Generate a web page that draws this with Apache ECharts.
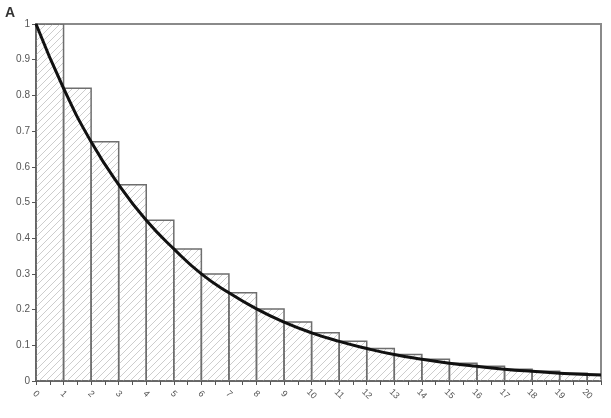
<!DOCTYPE html>
<html>
<head>
<meta charset="utf-8">
<script src="https://cdn.jsdelivr.net/npm/echarts@6/dist/echarts.min.js"></script>
<style>
html,body{margin:0;padding:0;background:#fff;}
#c{width:611px;height:418px;}
</style>
</head>
<body>
<div id="c"></div>
<script>
// Data
const binStarts = [0,1,2,3,4,5,6,7,8,9,10,11,12,13,14,15,16,17,18,19,20];
const barValues = [1.0,0.82,0.67,0.55,0.45,0.37,0.30,0.247,0.202,0.165,0.135,0.111,0.091,0.074,0.061,0.050,0.041,0.033,0.027,0.022,0.018];
const curveX = [0,1,2,3,4,5,6,7,8,9,10,11,12,13,14,15,16,17,18,19,20,20.5];
const curveY = [1.0,0.82,0.67,0.55,0.45,0.37,0.30,0.247,0.202,0.165,0.135,0.111,0.091,0.074,0.061,0.050,0.041,0.033,0.027,0.022,0.018,0.017];
const yTicks = ['0','0.1','0.2','0.3','0.4','0.5','0.6','0.7','0.8','0.9','1'];

// Hatch pattern
const S = 7;
const pc = document.createElement('canvas');
pc.width = S; pc.height = S;
const g = pc.getContext('2d');
g.strokeStyle = '#cdcdcd';
g.lineWidth = 1;
g.beginPath();
g.moveTo(-1,S+1); g.lineTo(S+1,-1);
g.moveTo(-S-1,1); g.lineTo(1,-S-1);
g.moveTo(S-1,2*S+1); g.lineTo(2*S+1,S-1);
g.stroke();
const hatch = {image: pc, repeat: 'repeat'};

const chart = echarts.init(document.getElementById('c'));
chart.setOption({
  animation: false,
  backgroundColor: '#fff',
  textStyle: {fontFamily: 'Liberation Sans'},
  graphic: [{type:'text', left: 5, top: 6, style:{text:'A', font:'bold 14px Liberation Sans', fill:'#333'}}],
  grid: {left: 36, right: 10, top: 24, bottom: 37, show: true, borderColor: '#8a8a8a', borderWidth: 2, backgroundColor: 'transparent'},
  xAxis: {
    type: 'value', min: 0, max: 20.5, interval: 0.5,
    axisLine: {show: true, onZero: false, lineStyle: {color: '#666', width: 2}},
    axisTick: {show: true, length: 4, lineStyle: {color: '#555', width: 1}},
    splitLine: {show: false},
    axisLabel: {
      rotate: -45, fontSize: 9, color: '#555', margin: 13,
      align: 'center', verticalAlign: 'middle',
      formatter: function(v){ return (Math.abs(v - Math.round(v)) < 1e-6 && v <= 20) ? String(Math.round(v)) : ''; }
    }
  },
  yAxis: {
    type: 'value', min: 0, max: 1, interval: 0.1,
    axisLine: {show: true, lineStyle: {color: '#666', width: 2}},
    axisTick: {show: true, length: 4, lineStyle: {color: '#555'}},
    splitLine: {show: false},
    axisLabel: {
      fontSize: 10, color: '#555', margin: 6,
      formatter: function(v){ return yTicks[Math.round(v*10)]; }
    }
  },
  series: [
    {
      type: 'custom',
      clip: true,
      data: binStarts.map((b,i)=>[b, barValues[i]]),
      renderItem: function(params, api){
        const x0 = api.value(0), v = api.value(1);
        const p0 = api.coord([x0, 0]);
        const p1 = api.coord([x0 + 1, v]);
        return {
          type: 'rect',
          shape: {x: p0[0], y: p1[1], width: p1[0]-p0[0], height: p0[1]-p1[1]},
          style: {fill: hatch, stroke: '#6e6e6e', lineWidth: 1.5}
        };
      },
      z: 2
    },
    {
      type: 'line',
      data: curveX.map((x,i)=>[x, curveY[i]]),
      smooth: true,
      showSymbol: false,
      clip: true,
      lineStyle: {color: '#111', width: 3},
      z: 3
    }
  ]
});
</script>
</body>
</html>
